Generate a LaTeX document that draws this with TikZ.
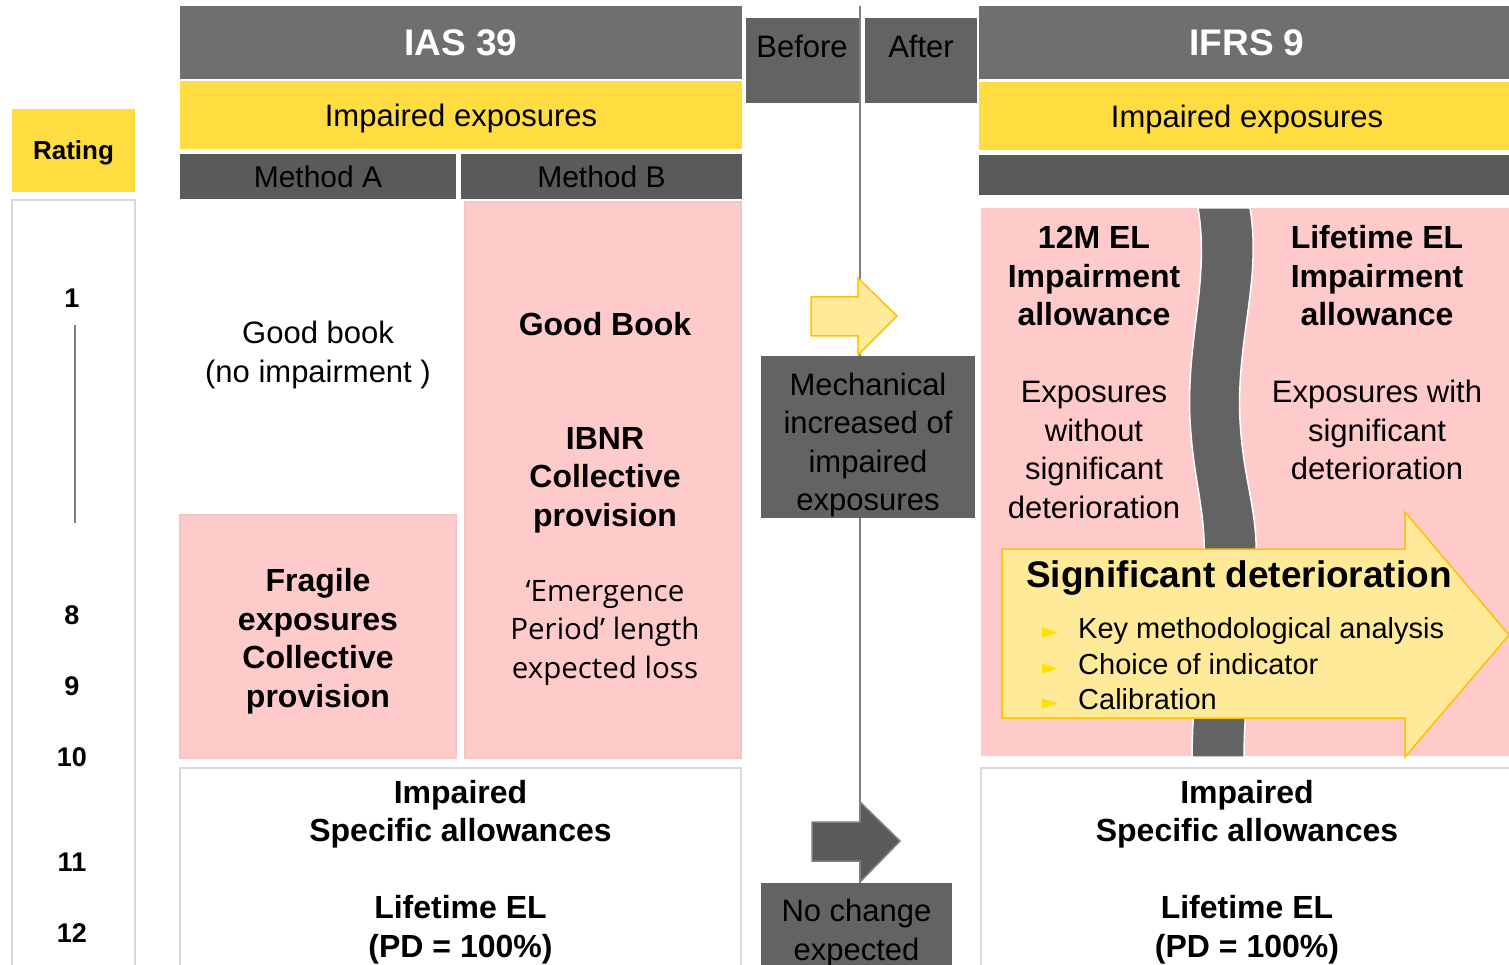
\documentclass[tikz,border=0pt]{standalone}
\usepackage{fontspec}
\setmainfont{Liberation Sans}
\newfontfamily\emfont{Open Sans}
\newfontfamily\symfont{DejaVu Sans}
\usetikzlibrary{calc, positioning}

\definecolor{hdrgray}{HTML}{6F6F6F}
\definecolor{boxgray}{HTML}{636363}
\definecolor{bargray}{HTML}{5A5A5A}
\definecolor{eyyellow}{HTML}{FFDC3F}
\definecolor{lightpink}{HTML}{FFCACA}
\definecolor{pinkedge}{HTML}{F5C4C4}
\definecolor{arrowfill}{HTML}{FFEA99}
\definecolor{arrowline}{HTML}{FFC000}
\definecolor{bulletyel}{HTML}{FFE000}
\definecolor{framegray}{HTML}{D9D9D9}

\newcommand{\blt}{\makebox[36pt][l]{\textcolor{bulletyel}{\symfont\fontsize{21}{20}\selectfont ►}}}

\begin{document}
\begin{tikzpicture}[x=1pt,y=-1pt,
  panel/.style={inner sep=0pt, outer sep=0pt, text depth=0pt},
  hdr/.style={panel, fill=hdrgray, text=white, text height=26.5pt,
    font=\fontsize{37}{44}\selectfont\bfseries},
  yelbar/.style={panel, fill=eyyellow, text height=22.2pt, font=\fontsize{31}{38}\selectfont},
  darkbar/.style={panel, fill=bargray, text height=21.5pt, font=\fontsize{30}{36}\selectfont},
  darkbox/.style={panel, fill=boxgray},
  pinkbox/.style={panel, fill=lightpink, draw=pinkedge, line width=1.5pt},
  whitebox/.style={panel, fill=white, draw=framegray, line width=1.5pt},
  plain/.style={inner sep=0pt, align=center, font=\fontsize{31}{38.5}\selectfont},
  strong/.style={plain, font=\fontsize{32}{38.5}\selectfont\bfseries},
  rate/.style={inner sep=0pt, font=\fontsize{27}{32}\selectfont\bfseries},
  flowarrow/.style={fill=arrowfill, draw=arrowline, line width=1.5pt},
  greyarrow/.style={fill=bargray, draw=gray, line width=1.5pt}
]
\def\ias{461}
\def\ifrs{1247}
\def\divx{860}

\useasboundingbox (0,0) rectangle (1509,965);
\clip (0,0) rectangle (1509,965);

% Rating column
\node[yelbar, minimum width=123, minimum height=83, text height=18.6pt,
  font=\fontsize{26}{30}\selectfont\bfseries] (rating) at (73.5,150.5) {Rating};
\draw[framegray, line width=1.5pt, fill=white] (12,200) rectangle (135,980);
\foreach \r/\y in {1/298, 8/615, 9/686, 10/757, 11/862, 12/933}{
  \node[rate] (r\r) at (72,\y) {\r};
}
\coordinate (rtop) at (75,325);
\coordinate (rbot) at (75,523);
\draw[gray, line width=1.5pt] (rtop) -- (rbot);

% Before / after divider
\coordinate (divtop) at (\divx,6);
\coordinate (divbot) at (\divx,965);
\draw[gray, line width=2pt] (divtop) -- (divbot);

% IAS 39 side
\node[hdr, minimum width=562, minimum height=73] (iashdr) at (\ias,42.5) {IAS 39};
\node[yelbar, minimum width=562, minimum height=68] (iasimp) at (\ias,115) {Impaired exposures};
\node[darkbar, minimum width=276, minimum height=45] (metha) at (318,176.5) {Method A};
\node[darkbar, minimum width=281, minimum height=45] (methb) at (601.5,176.5) {Method B};

\node[plain] (goodbook) at (318,355) {Good book\\(no impairment )};

\node[pinkbox, minimum width=276, minimum height=556] (pinkb) at (603,480) {};
\node[strong] (goodbk) at (605,324) {Good Book};
\node[strong] (ibnr) at (605,480) {IBNR\\Collective\\provision};
\node[plain, font=\fontsize{29.5}{38.5}\selectfont\emfont] (emerg) at (605,633)
  {‘Emergence\\Period’ length\\expected loss};

\node[pinkbox, minimum width=276, minimum height=243] (fragile) at (318,636.5) {};
\node[strong] (fragtxt) at (318,641) {Fragile\\exposures\\Collective\\provision};

\node[whitebox, minimum width=561, minimum height=220] (iasbot) at (460.5,878) {};
\node[strong] (iasbottxt) at (460.5,872)
  {Impaired\\Specific allowances\\[38.5pt]Lifetime EL\\(PD = 100\%)};

% Transition column
\node[darkbox, minimum width=113, minimum height=85] (before) at (802.5,60.5) {};
\node[darkbox, minimum width=112, minimum height=85] (after) at (921,60.5) {};
\node[plain] (beforetxt) at (802,46) {Before};
\node[plain] (aftertxt) at (921,46) {After};

\draw[flowarrow] (811,297) -- (858,297) -- (858,278) -- (897,316)
  -- (858,355) -- (858,336) -- (811,336) -- cycle;
\node[darkbox, minimum width=214, minimum height=162] (mech) at (868,437) {};
\node[plain] (mechtxt) at (868,445) {Mechanical\\increased of\\impaired\\exposures};

\draw[greyarrow] (812,822) -- (860,822) -- (860,802) -- (900,841)
  -- (860,882) -- (860,861) -- (812,861) -- cycle;
\node[darkbox, minimum width=191, minimum height=92] (nochange) at (856.5,929) {};
\node[plain] (nochangetxt) at (856.5,933) {No change\\expected};

% IFRS 9 side
\node[hdr, minimum width=536, minimum height=73] (ifrshdr) at (\ifrs,42.5) {IFRS 9};
\node[yelbar, minimum width=536, minimum height=68] (ifrsimp) at (\ifrs,116) {Impaired exposures};
\node[darkbar, minimum width=536, minimum height=40] (ifrsbar) at (\ifrs,175) {};

\node[panel, fill=lightpink, minimum width=534, minimum height=548] (ifrspink) at (1248,482) {};
\filldraw[fill=boxgray, draw=white, line width=1.5pt]
  (1198,208) .. controls (1210,280) and (1186,340) .. (1190,420)
  .. controls (1193,480) and (1206,510) .. (1204,560)
  .. controls (1202,640) and (1192,700) .. (1192,757)
  -- (1244,757) .. controls (1244,700) and (1254,640) .. (1256,560)
  .. controls (1258,510) and (1243,480) .. (1240,420)
  .. controls (1236,340) and (1262,280) .. (1250,208) -- cycle;

\node[strong] (twelve) at (1094,276) {12M EL\\Impairment\\allowance};
\node[plain] (twelvetxt) at (1094,450) {Exposures\\without\\significant\\deterioration};
\node[strong] (life) at (1377,276) {Lifetime EL\\Impairment\\allowance};
\node[plain] (lifetxt) at (1377,430) {Exposures with\\significant\\deterioration};

\draw[flowarrow] (1002,549) -- (1405,549) -- (1405,512) -- (1509,635)
  -- (1405,757) -- (1405,718) -- (1002,718) -- cycle;
\node[strong, font=\fontsize{37}{44}\selectfont\bfseries] (sigdet) at (1239,578)
  {Significant deterioration};
\node[plain, align=left, anchor=west, font=\fontsize{29}{35.5}\selectfont] (sigitems) at (1042,664)
  {\blt Key methodological analysis\\\blt Choice of indicator\\\blt Calibration};

\node[whitebox, minimum width=536, minimum height=220] (ifrsbot) at (1249,878) {};
\node[strong] (ifrsbottxt) at (\ifrs,872)
  {Impaired\\Specific allowances\\[38.5pt]Lifetime EL\\(PD = 100\%)};
\end{tikzpicture}
\end{document}
